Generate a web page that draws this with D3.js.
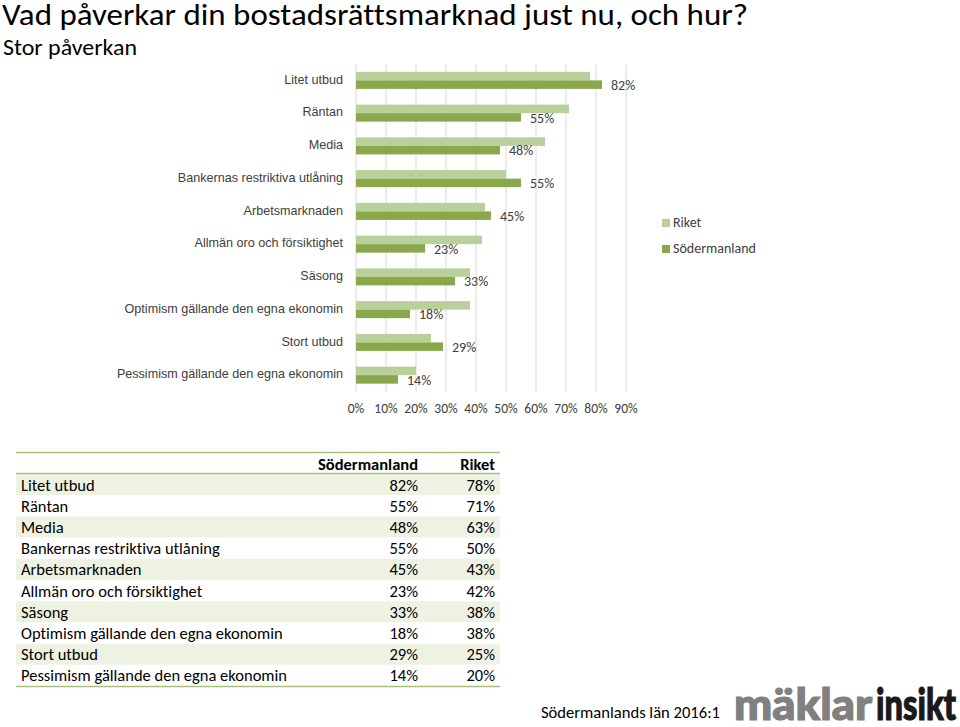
<!DOCTYPE html>
<html><head><meta charset="utf-8">
<script src="https://cdn.jsdelivr.net/npm/d3@7"></script>
<style>body{margin:0;background:#fff}svg{display:block}text{font-variant-ligatures:none}</style>
</head><body>
<svg id="c" width="960" height="727"></svg>
<script>
const categories = ["Litet utbud","Räntan","Media","Bankernas restriktiva utlåning","Arbetsmarknaden","Allmän oro och försiktighet","Säsong","Optimism gällande den egna ekonomin","Stort utbud","Pessimism gällande den egna ekonomin"];
const sodermanland = [0.82,0.55,0.48,0.55,0.45,0.23,0.33,0.18,0.29,0.14];
const riket = [0.78,0.71,0.63,0.50,0.43,0.42,0.38,0.38,0.25,0.20];
const seriesNames = ["Riket","Södermanland"];
const xTicks = [0,0.1,0.2,0.3,0.4,0.5,0.6,0.7,0.8,0.9];

const CAL = "Carlito, Lato, sans-serif";
const ARI = "'Liberation Sans', Arial, sans-serif";
const cRiket = "#bad09a", cSod = "#8aa84b";
const svg = d3.select("#c");
const pct = d3.format(".0%");

// Titles
svg.append("text").attr("x",2).attr("y",25).attr("font-family",CAL).attr("font-size",30).attr("font-weight",300)
  .attr("fill","#000").attr("textLength",746).attr("lengthAdjust","spacingAndGlyphs")
  .text("Vad påverkar din bostadsrättsmarknad just nu, och hur?");
svg.append("text").attr("x",3).attr("y",55).attr("font-family",CAL).attr("font-size",22).attr("font-weight",300)
  .attr("fill","#000").attr("textLength",134).attr("lengthAdjust","spacingAndGlyphs")
  .text("Stor påverkan");

// Chart
const x = d3.scaleLinear().domain([0,0.9]).range([356,626]);
const y = d3.scaleBand().domain(categories).range([64,391.5]).paddingInner(0.48).paddingOuter(0.24);
const bh = y.bandwidth()/2;

svg.append("g").selectAll("line").data(xTicks).join("line")
  .attr("x1",d=>x(d)).attr("x2",d=>x(d)).attr("y1",64).attr("y2",392)
  .attr("stroke","#d9d9d9").attr("stroke-width",1);

const g = svg.append("g");
g.selectAll("rect.r").data(categories).join("rect").attr("class","r")
  .attr("x",x(0)).attr("y",d=>y(d)).attr("height",bh)
  .attr("width",(d,i)=>x(riket[i])-x(0)).attr("fill",cRiket);
g.selectAll("rect.s").data(categories).join("rect").attr("class","s")
  .attr("x",x(0)).attr("y",d=>y(d)+bh).attr("height",bh)
  .attr("width",(d,i)=>x(sodermanland[i])-x(0)).attr("fill",cSod);
g.selectAll("text.lbl").data(categories).join("text").attr("class","lbl")
  .attr("x",(d,i)=>x(sodermanland[i])+9).attr("y",d=>y(d)+bh*1.5+2)
  .attr("dominant-baseline","middle").attr("font-family",CAL).attr("font-size",14).attr("fill","#404040")
  .text((d,i)=>pct(sodermanland[i]));

g.selectAll("text.cat").data(categories).join("text").attr("class","cat")
  .attr("x",343).attr("y",d=>y(d)+y.bandwidth()/2).attr("text-anchor","end")
  .attr("dominant-baseline","middle").attr("font-family",ARI).attr("font-size",12.6).attr("fill","#404040")
  .text(d=>d);

svg.append("g").selectAll("text").data(xTicks).join("text")
  .attr("x",d=>x(d)).attr("y",410).attr("text-anchor","middle").attr("dominant-baseline","middle")
  .attr("font-family",CAL).attr("font-size",13.5).attr("fill","#404040").text(d=>pct(d));

// Legend
const leg = svg.append("g").selectAll("g").data(seriesNames).join("g")
  .attr("transform",(d,i)=>`translate(662,${219+i*26})`);
leg.append("rect").attr("width",8).attr("height",8).attr("fill",(d,i)=>i?cSod:cRiket);
leg.append("text").attr("x",11).attr("y",4.5).attr("dominant-baseline","middle")
  .attr("font-family",CAL).attr("font-size",14).attr("fill","#404040").text(d=>d);

// Table
const tL=16, tR=500, rowTop=474, rowH=21.2, TF=16.5;
const t = svg.append("g");
t.selectAll("rect").data(categories).join("rect")
  .attr("x",tL).attr("width",tR-tL).attr("y",(d,i)=>rowTop+i*rowH).attr("height",rowH)
  .attr("fill",(d,i)=>i%2===0?"#eef2e3":"#fff");
[452.5,473.5,686.5].forEach(yy=>t.append("line").attr("x1",tL).attr("x2",tR).attr("y1",yy).attr("y2",yy)
  .attr("stroke","#a9c07a").attr("stroke-width",1.6));
t.append("text").attr("x",418).attr("y",470).attr("text-anchor","end").attr("font-family",CAL)
  .attr("font-size",TF).attr("font-weight",700).attr("fill","#000").text(seriesNames[1]);
t.append("text").attr("x",495).attr("y",470).attr("text-anchor","end").attr("font-family",CAL)
  .attr("font-size",TF).attr("font-weight",700).attr("fill","#000").text(seriesNames[0]);
const rows = t.selectAll("g.row").data(categories).join("g").attr("class","row")
  .attr("transform",(d,i)=>`translate(0,${rowTop+i*rowH+rowH/2+6})`);
rows.append("text").attr("x",21).attr("font-family",CAL).attr("font-size",TF).attr("fill","#000").text(d=>d);
rows.append("text").attr("x",418).attr("text-anchor","end").attr("font-family",CAL).attr("font-size",TF).attr("fill","#000").text((d,i)=>pct(sodermanland[i]));
rows.append("text").attr("x",495).attr("text-anchor","end").attr("font-family",CAL).attr("font-size",TF).attr("fill","#000").text((d,i)=>pct(riket[i]));

// Footer
svg.append("text").attr("x",541).attr("y",718).attr("font-family",CAL).attr("font-size",16).attr("fill","#000")
  .attr("textLength",179).attr("lengthAdjust","spacingAndGlyphs").text("Södermanlands län 2016:1");
const logoFont = 44;
svg.append("text").attr("x",734).attr("y",720).attr("font-family","Lato, sans-serif")
  .attr("font-size",logoFont).attr("font-weight",900).attr("fill","#808080").attr("stroke","#808080").attr("stroke-width",1.2)
  .attr("textLength",138).attr("lengthAdjust","spacingAndGlyphs").text("mäklar");
svg.append("text").attr("x",876).attr("y",720).attr("font-family","Lato, sans-serif")
  .attr("font-size",logoFont).attr("font-weight",900).attr("fill","#1a1a1a").attr("stroke","#1a1a1a").attr("stroke-width",1.2)
  .attr("textLength",80).attr("lengthAdjust","spacingAndGlyphs").text("insikt");
</script>
</body></html>
